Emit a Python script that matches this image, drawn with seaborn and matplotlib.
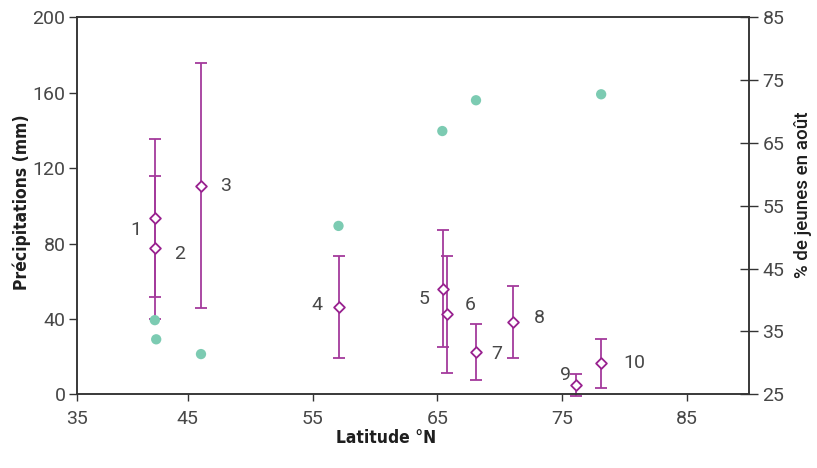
import matplotlib
matplotlib.use("Agg")
import matplotlib.pyplot as plt
import seaborn as sns
import pandas as pd

# ---------------- data ----------------
site_ids = ['1', '2', '3', '4', '5', '6', '7', '8', '9', '10']
site_lat = [42.4, 42.4, 46.05, 57.1, 65.45, 65.75, 68.1, 71.1, 76.1, 78.1]
precip_mean = [93.7, 77.8, 110.7, 46.5, 56.0, 42.5, 22.4, 38.5, 5.0, 16.4]
precip_err = [42, 38, 65, 27, 31, 31, 15, 19, 6, 13]

young_lat = [42.36, 42.47, 46.06, 57.08, 65.4, 68.1, 78.13]
young_pct = [36.8, 33.75, 31.4, 51.8, 66.9, 71.8, 72.75]

x_ticks = [36.1, 45, 55, 65, 75, 85]
x_tick_labels = ['35', '45', '55', '65', '75', '85']
y_ticks = [0, 40, 80, 120, 160, 200]
y2_ticks = [25, 35, 45, 55, 65, 75, 85]

x_label = 'Latitude °N'
y_label = 'Précipitations (mm)'
y2_label = '% de jeunes en août'

# ---------------- style ----------------
label_offsets = [(-20, -12), (24, -6), (25, 0), (-22, 2), (-19, -10),
                 (24, 9), (21, -2), (26, 4), (-10, 10), (34, 0)]
purple = '#98218f'
purple_bar = '#a43a9c'
green = '#7ccbb2'
txt = '#474747'
spine_c = '#333333'

sns.set_style('white')
plt.rcParams['font.family'] = ['Roboto', 'Liberation Sans', 'DejaVu Sans']
tick_font = dict(family=['Roboto', 'Liberation Sans', 'DejaVu Sans'], weight='normal')
cond_font = dict(family=['DejaVu Sans', 'Liberation Sans'], weight='bold', stretch='condensed')

fig = plt.figure(figsize=(8.17, 4.68), dpi=100)
ax = fig.add_axes([0.0939, 0.1575, 0.8232, 0.8055])

df_p = pd.DataFrame({'lat': site_lat, 'precip': precip_mean, 'err': precip_err, 'id': site_ids})
df_y = pd.DataFrame({'lat': young_lat, 'pct': young_pct})

ax.errorbar(df_p['lat'], df_p['precip'], yerr=df_p['err'], fmt='none',
            ecolor=purple_bar, elinewidth=1.3, capsize=4, capthick=1.3,
            clip_on=False, zorder=2)
sns.scatterplot(data=df_p, x='lat', y='precip', marker='D', s=30,
                facecolor='white', edgecolor=purple, linewidth=1.3,
                ax=ax, zorder=3, clip_on=False, legend=False)

for lab, x, y, (dx, dy) in zip(df_p['id'], df_p['lat'], df_p['precip'], label_offsets):
    ax.annotate(lab, (x, y), xytext=(dx, dy), textcoords='offset pixels',
                ha='center', va='center', fontsize=14, color=txt, **tick_font)

ax.set_xlim(x_ticks[0], 90)
ax.set_ylim(0, 200)
ax.set_xticks(x_ticks)
ax.set_xticklabels(x_tick_labels)
ax.set_yticks(y_ticks)

ax2 = ax.twinx()
sns.scatterplot(data=df_y, x='lat', y='pct', color=green, s=55,
                edgecolor='none', ax=ax2, zorder=4, legend=False)
ax2.set_ylim(25, 85)
ax2.set_yticks(y2_ticks)
ax2.set_xlim(x_ticks[0], 90)

for a in (ax, ax2):
    for s in a.spines.values():
        s.set_visible(True)
        s.set_color(spine_c)
        s.set_linewidth(1.1)

ax.tick_params(axis='y', direction='out', length=6, width=1, pad=2,
               labelsize=14, colors=spine_c, labelcolor=txt, left=True)
ax.tick_params(axis='x', direction='out', length=5, width=1, pad=6,
               labelsize=14, colors=spine_c, labelcolor=txt, bottom=True)
ax2.tick_params(axis='y', direction='inout', length=13, width=1, pad=3,
                labelsize=14, colors=spine_c, labelcolor=txt, right=True)

ax.set_xlabel(x_label, fontsize=12.5, color='#1e1e1e', **cond_font)
ax.set_ylabel(y_label, fontsize=12.5, color='#1e1e1e', **cond_font)
ax2.set_ylabel(y2_label, fontsize=13.5, color='#1e1e1e',
               family=['Roboto', 'Liberation Sans'], weight='medium')

ax.xaxis.set_label_coords(0.46, -0.116)
ax.xaxis.label.set_va('center')
ax.yaxis.set_label_coords(-0.081, 0.509)
ax.yaxis.label.set_va('center')
ax2.yaxis.set_label_coords(1.08, 0.53)
ax2.yaxis.label.set_va('center')
ax2.yaxis.label.set_rotation(90)

fig.savefig('out.png', dpi=100)
